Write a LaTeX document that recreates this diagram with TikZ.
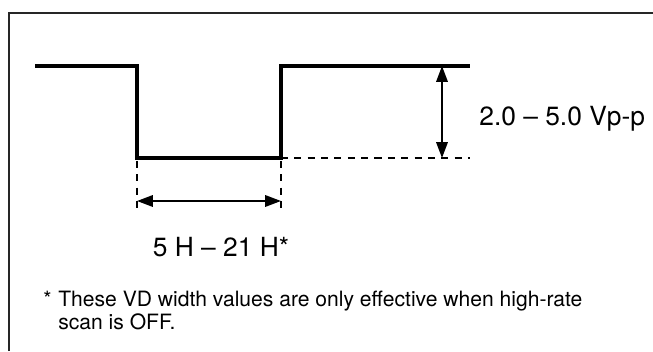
\documentclass[tikz,border=0pt]{standalone}
\usepackage{fontspec}
\setmainfont{TeX Gyre Heros}
\usetikzlibrary{arrows.meta}

\begin{document}
\begin{tikzpicture}[>={Triangle[length=9pt,width=6.5pt]},
  wave/.style={line width=2.3pt,line join=miter},
  dim/.style={<->,line width=1.1pt},
  guide/.style={line width=0.9pt,dash pattern=on 4pt off 3.6pt},
  lbl/.style={font=\fontsize{15}{18}\selectfont,inner sep=0pt},
  note/.style={font=\fontsize{12}{14}\selectfont,inner sep=0pt}]
  \useasboundingbox (0,0) rectangle (13.06,7.02);
  \draw[line width=0.6pt,black!85] (0.18,0) -- (0.18,6.76) -- (13.06,6.76);
  % pulse
  \coordinate (a) at (0.70,5.70);
  \coordinate (b) at (2.74,5.70);
  \coordinate (c) at (2.74,3.86);
  \coordinate (d) at (5.62,3.86);
  \coordinate (e) at (5.62,5.70);
  \coordinate (f) at (9.40,5.70);
  \coordinate (g) at (9.40,3.86);
  \draw[wave] (a) -- (b) -- (c) -- (d) -- (e) -- (f);
  \draw[guide] (d) -- (g);
  % amplitude
  \coordinate (ht) at (8.84,5.70);
  \coordinate (hb) at (8.84,3.86);
  \draw[dim] (ht) -- (hb);
  \node[lbl,anchor=base west] (amp) at (9.58,4.50) {2.0 – 5.0 Vp-p};
  % pulse width
  \coordinate (l1) at (2.74,3.80);
  \coordinate (l2) at (2.74,2.78);
  \coordinate (r1) at (5.62,3.80);
  \coordinate (r2) at (5.62,2.78);
  \draw[guide] (l1) -- (l2);
  \draw[guide] (r1) -- (r2);
  \coordinate (wl) at (2.74,3.00);
  \coordinate (wr) at (5.62,3.00);
  \draw[dim] (wl) -- (wr);
  \node[lbl,anchor=base] (width) at (4.42,1.88) {5 H – 21 H*};
  % footnote
  \node[note,anchor=base west] (star) at (0.86,0.88) {*};
  \node[note,anchor=base west] (note1) at (1.16,0.88) {These VD width values are only effective when high-rate};
  \node[note,anchor=base west] (note2) at (1.16,0.42) {scan is OFF.};
\end{tikzpicture}
\end{document}
